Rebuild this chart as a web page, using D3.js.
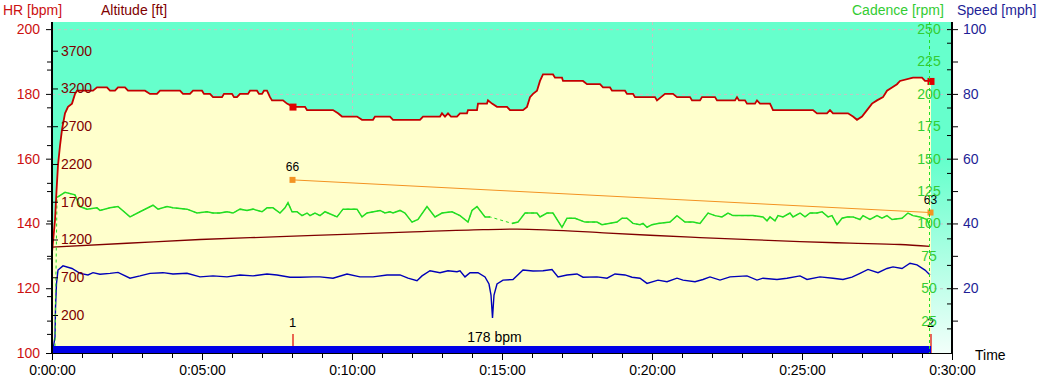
<!DOCTYPE html>
<html><head><meta charset="utf-8">
<script src="https://cdn.jsdelivr.net/npm/d3@7"></script>
<style>html,body{margin:0;padding:0;background:#fff;} svg{display:block;font-family:"Liberation Sans",Arial,sans-serif;}</style>
</head><body><svg id="c" width="1044" height="383"></svg>
<script>
// ---------- DATA ----------
// heart rate [seconds, bpm]
const heartRate = [[0,131],[6,141],[9,150],[12,158],[16,164],[20,169],[26,174],[32,176],[40,177],[46,180],[50,181],[82,181],[90,182],[110,182],[116,181],[126,181],[132,182],[146,182],[152,181],[186,181],[196,180],[210,180],[216,181],[256,181],[262,180],[276,180],[282,181],[300,181],[304,180],[316,180],[322,179],[340,179],[344,180],[360,180],[364,179],[370,179],[376,180],[392,180],[396,181],[410,181],[414,180],[420,180],[424,181],[430,181],[436,179],[440,178],[462,178],[470,177],[482,176],[506,176],[510,175],[562,175],[572,174],[580,173],[610,173],[620,172],[642,172],[646,173],[676,173],[682,172],[736,172],[742,173],[776,173],[780,174],[786,173],[792,174],[798,173],[810,173],[816,174],[830,174],[832,175],[850,175],[852,177],[870,177],[872,178],[880,177],[890,176],[910,176],[916,175],[942,175],[950,176],[956,179],[962,180],[970,181],[976,184],[982,186],[1002,186],[1006,185],[1020,185],[1022,184],[1062,184],[1070,183],[1096,183],[1102,182],[1116,182],[1120,181],[1146,181],[1150,180],[1162,180],[1166,179],[1206,179],[1210,178],[1218,179],[1226,180],[1242,180],[1250,179],[1276,179],[1280,178],[1296,178],[1300,179],[1326,179],[1330,178],[1366,178],[1370,179],[1374,178],[1386,178],[1390,177],[1406,177],[1410,178],[1416,177],[1436,177],[1442,175],[1522,175],[1530,174],[1550,174],[1556,175],[1562,174],[1592,174],[1602,173],[1610,172],[1620,173],[1630,175],[1640,177],[1650,178],[1662,179],[1670,181],[1680,182],[1690,183],[1696,184],[1722,185],[1740,185],[1746,184],[1758,184]];
// cadence [seconds, rpm] (null = no data, drawn dashed)
const cadence = [[6,5],[8,null],[10,120],[26,124],[46,122],[56,113],[70,111],[90,112],[96,110],[116,112],[132,113],[156,105],[176,109],[202,114],[212,111],[230,113],[242,112],[270,111],[290,108],[310,109],[322,108],[336,108],[350,109],[362,108],[376,111],[390,110],[402,111],[420,109],[430,112],[442,112],[456,108],[466,112],[472,116],[480,109],[490,109],[500,106],[510,108],[516,106],[526,108],[536,106],[546,109],[570,105],[582,111],[610,111],[620,105],[630,108],[656,110],[666,108],[676,109],[682,108],[696,110],[706,108],[720,101],[732,103],[750,113],[766,105],[780,108],[800,109],[816,106],[832,101],[840,110],[850,113],[866,105],[876,105],[898,null],[920,100],[932,101],[946,108],[970,108],[976,105],[990,108],[1002,108],[1020,97],[1030,104],[1046,104],[1066,101],[1090,101],[1100,99],[1130,101],[1140,104],[1150,104],[1162,100],[1176,99],[1182,100],[1190,97],[1200,99],[1212,100],[1236,101],[1250,106],[1266,101],[1282,101],[1296,100],[1312,108],[1326,106],[1340,105],[1352,108],[1362,106],[1382,106],[1402,106],[1422,105],[1430,102],[1436,105],[1446,102],[1452,106],[1462,105],[1476,108],[1482,105],[1496,108],[1506,105],[1516,108],[1530,108],[1540,109],[1552,105],[1560,106],[1570,99],[1580,104],[1590,105],[1602,105],[1616,103],[1622,106],[1636,103],[1650,106],[1660,104],[1670,106],[1680,103],[1700,104],[1712,108],[1722,106],[1736,105],[1750,103],[1756,97]];
// speed [seconds, mph]
const speed = [[2,1],[6,5],[7,14],[9,21.5],[12,25.6],[22,26.9],[40,26.1],[56,24.6],[72,24.1],[82,24.8],[96,24.3],[116,24.6],[132,24.9],[156,23.1],[176,23.8],[196,24.6],[222,24.8],[242,24.4],[270,24.6],[296,23.5],[322,23.8],[350,23.5],[376,24.1],[402,23.8],[430,24.4],[450,24.1],[476,23.4],[496,23.4],[522,23.5],[536,23.5],[562,23.1],[590,24.4],[616,23.5],[642,23.5],[670,24.1],[696,24.1],[712,23.1],[730,22.3],[740,23.8],[756,25.4],[776,24.8],[792,25.4],[810,25.1],[816,25.4],[826,23.5],[836,24.8],[852,24.8],[866,23.5],[874,21.3],[878,17.9],[881,10.8],[884,17.9],[890,21.3],[902,22.5],[922,22.7],[942,25.6],[962,25.3],[982,25.4],[1000,25.8],[1012,23.5],[1030,24.1],[1050,24.4],[1062,23.4],[1090,23.5],[1110,23.1],[1126,24.4],[1146,24.1],[1160,23.4],[1176,23.1],[1190,21.5],[1212,22.5],[1230,22.0],[1250,23.1],[1262,22.5],[1286,22.0],[1302,22.7],[1316,23.5],[1336,22.5],[1356,23.5],[1390,23.8],[1410,22.5],[1422,23.1],[1450,22.7],[1470,23.1],[1496,23.8],[1510,22.7],[1536,23.5],[1562,23.1],[1582,22.7],[1600,23.4],[1616,24.6],[1632,25.8],[1652,24.8],[1670,26.1],[1682,26.6],[1700,26.1],[1716,27.7],[1730,27.2],[1746,25.6],[1756,24.1]];
// altitude [seconds, ft]
const altitude = [[0,1100],[150,1150],[296,1200],[456,1237],[600,1272],[722,1300],[862,1330],[930,1337],[996,1325],[1096,1290],[1196,1256],[1296,1226],[1396,1198],[1496,1172],[1596,1152],[1696,1134],[1756,1110]];
// laps
const lapTimes = [481, 1757];
const lapNames = ["1", "2"];
const lapValues = [66, 63];
const avgHRText = "178 bpm";
const endCursor = 1754;
const dataEnd = 1758;
// tick values
const hrTicks = [100,120,140,160,180,200];
const hrMinorTicks = [110,130,150,170,190];
const altTicks = [200,700,1200,1700,2200,2700,3200,3700];
const altMinorTicks = [-50,450,950,1450,1950,2450,2950,3450];
const cadTicks = [25,50,75,100,125,150,175,200,225,250];
const spdTicks = [10,20,30,40,50,60,70,80,90,100];
const spdLeftTicks = [7.6,15.3,20,27.2,35.4,40,47.4,55.6,60,67.3,75.8,80,87.6,95.8,100];
const timeTicks = d3.range(0, 1801, 60);
const timeMajor = d3.range(0, 1801, 300);
const gridHR = [120,140,160,180,200];
const gridTime = [600,1200];

// ---------- LAYOUT ----------
const L=52, R=952, T=22, B=353;
const svg = d3.select('#c');
const x = d3.scaleLinear().domain([0,1800]).range([L,R]);
const hrY = d3.scaleLinear().domain([100,202.2]).range([B,T]);
const cadY = d3.scaleLinear().domain([0,255.4]).range([B,T]);
const spdY = d3.scaleLinear().domain([0,102.2]).range([B,T]);
const altY = d3.scaleLinear().domain([-303,4080]).range([B,T]);
const lapY = d3.scaleLinear().domain([50.1,80.5]).range([B,T]);

const C = {teal:'#66ffcc', yellow:'#ffffcc', hr:'#c40000', hrText:'#cc1111', alt:'#800000',
  cad:'#22dd22', cadText:'#33cc33', spd:'#0000b8', spdText:'#1e1e96', bar:'#0000e6', lap:'#f39322'};

const defs = svg.append('defs');
const g = defs.append('linearGradient').attr('id','bg').attr('x1',0).attr('y1',0).attr('x2',0).attr('y2',1);
g.append('stop').attr('offset','0').attr('stop-color',C.teal);
g.append('stop').attr('offset','0.42').attr('stop-color',C.teal);
g.append('stop').attr('offset','1').attr('stop-color','#f2fffa');

svg.append('rect').attr('x',L).attr('y',T).attr('width',R-L).attr('height',B-T).attr('fill','url(#bg)');

// grid
svg.append('g').selectAll('line').data(gridHR).join('line')
  .attr('x1',L).attr('x2',R).attr('y1',d=>hrY(d)+0.5).attr('y2',d=>hrY(d)+0.5)
  .attr('stroke','#c4c4c4').attr('stroke-dasharray','3,3');
svg.append('g').selectAll('line').data(gridTime).join('line')
  .attr('x1',d=>x(d)+0.5).attr('x2',d=>x(d)+0.5).attr('y1',T).attr('y2',B)
  .attr('stroke','#c4c4c4').attr('stroke-dasharray','3,3');

// HR area
svg.append('path').datum(heartRate)
  .attr('d', d3.area().x(d=>x(d[0])).y0(B).y1(d=>hrY(d[1])))
  .attr('fill', C.yellow);

// altitude line
svg.append('path').datum(altitude)
  .attr('d', d3.line().x(d=>x(d[0])).y(d=>altY(d[1])).curve(d3.curveMonotoneX))
  .attr('fill','none').attr('stroke',C.alt).attr('stroke-width',1.3);

// speed line
svg.append('path').datum(speed)
  .attr('d', d3.line().x(d=>x(d[0])).y(d=>spdY(d[1])))
  .attr('fill','none').attr('stroke',C.spd).attr('stroke-width',1.4);

// cadence: dashed through gaps, solid where defined
const cadDefined = cadence.filter(d=>d[1]!==null);
svg.append('path').datum(cadDefined)
  .attr('d', d3.line().x(d=>x(d[0])).y(d=>cadY(d[1])))
  .attr('fill','none').attr('stroke',C.cad).attr('stroke-width',1).attr('stroke-dasharray','3,3');
svg.append('path').datum(cadence)
  .attr('d', d3.line().defined(d=>d[1]!==null).x(d=>x(d[0])).y(d=>cadY(d[1])))
  .attr('fill','none').attr('stroke',C.cad).attr('stroke-width',1.5);

// lap value line (orange)
const lapPts = lapTimes.map((t,i)=>[t, lapValues[i]]);
svg.append('path').datum(lapPts)
  .attr('d', d3.line().x(d=>x(d[0])).y(d=>lapY(d[1])))
  .attr('fill','none').attr('stroke',C.lap).attr('stroke-width',1);
svg.append('g').selectAll('rect').data(lapPts).join('rect')
  .attr('x',d=>x(d[0])-3).attr('y',d=>lapY(d[1])-3).attr('width',6).attr('height',6).attr('fill',C.lap);
svg.append('g').selectAll('text').data(lapPts).join('text')
  .attr('x',d=>x(d[0])).attr('y',d=>lapY(d[1])-9).attr('text-anchor','middle')
  .attr('font-size',12).attr('fill','#000').text(d=>d[1]);

// HR line
svg.append('path').datum(heartRate)
  .attr('d', d3.line().x(d=>x(d[0])).y(d=>hrY(d[1])))
  .attr('fill','none').attr('stroke',C.hr).attr('stroke-width',1.8);

// lap markers on HR
const hrAt = t => { const i = d3.bisector(d=>d[0]).left(heartRate, t); const a=heartRate[Math.max(0,i-1)], b=heartRate[Math.min(heartRate.length-1,i)]; if(b[0]===a[0]) return a[1]; return a[1]+(b[1]-a[1])*(t-a[0])/(b[0]-a[0]); };
svg.append('g').selectAll('rect').data(lapTimes).join('rect')
  .attr('x',d=>x(d)-3).attr('y',d=>hrY(hrAt(d))-3).attr('width',7).attr('height',7).attr('fill','#e00000');

// lap ticks + numbers at bottom
svg.append('g').selectAll('line').data(lapTimes).join('line')
  .attr('x1',d=>x(d)+0.5).attr('x2',d=>x(d)+0.5).attr('y1',334).attr('y2',B)
  .attr('stroke','#dd0000').attr('stroke-width',1.2);
svg.append('g').selectAll('text').data(lapTimes).join('text')
  .attr('x',d=>x(d)).attr('y',327).attr('text-anchor','middle').attr('font-size',13).attr('fill','#000')
  .text((d,i)=>lapNames[i]);

// blue bar
svg.append('rect').attr('x',x(0)).attr('y',346).attr('width',x(dataEnd)-x(0)).attr('height',B-346).attr('fill',C.bar);

// avg HR text
svg.append('text').attr('x',x(dataEnd/2)+3).attr('y',342).attr('text-anchor','middle').attr('font-size',14).attr('fill','#000').text(avgHRText);

// end cursor
svg.append('line').attr('x1',x(endCursor)+0.5).attr('x2',x(endCursor)+0.5).attr('y1',T).attr('y2',B)
  .attr('stroke',C.cad).attr('stroke-dasharray','3,3');

// cadence labels inside plot
const cadAx = svg.append('g').attr('transform',`translate(${x(endCursor)},0)`)
  .call(d3.axisRight(cadY).tickValues(cadTicks).tickSize(0).tickPadding(0));
cadAx.select('.domain').remove();
cadAx.selectAll('text').attr('text-anchor','middle').attr('fill',C.cadText).attr('font-size',14).attr('font-family','"Liberation Sans",Arial,sans-serif');

// ---------- AXES ----------
function styleAxis(sel, color){
  sel.select('.domain').remove();
  sel.selectAll('line').attr('stroke','#000');
  sel.selectAll('text').attr('fill',color).attr('font-size',14).attr('font-family','"Liberation Sans",Arial,sans-serif');
}
const intFmt = d3.format('d');
// left: HR
styleAxis(svg.append('g').attr('transform',`translate(${L},0)`).call(d3.axisLeft(hrY).tickValues(hrMinorTicks).tickSize(5).tickFormat('')), C.hrText);
styleAxis(svg.append('g').attr('transform',`translate(${L},0)`).call(d3.axisLeft(hrY).tickValues(hrTicks).tickSize(6).tickPadding(6).tickFormat(intFmt)), C.hrText);
// left: altitude
styleAxis(svg.append('g').attr('transform',`translate(${L},0)`).call(d3.axisLeft(altY).tickValues(altMinorTicks).tickSize(5).tickFormat('')), C.alt);
styleAxis(svg.append('g').attr('transform',`translate(${L},0)`).call(d3.axisRight(altY).tickValues(altTicks).tickSize(6).tickPadding(3).tickFormat(intFmt)), C.alt);
// right: speed
styleAxis(svg.append('g').attr('transform',`translate(${R},0)`).call(d3.axisLeft(spdY).tickValues(spdLeftTicks).tickSize(5).tickFormat('')), C.spdText);
styleAxis(svg.append('g').attr('transform',`translate(${R},0)`).call(d3.axisRight(spdY).tickValues(spdTicks).tickSize(6).tickPadding(5).tickFormat(d=> d%20===0 ? intFmt(d) : '')), C.spdText);
// bottom: time
const fmt = s => `${Math.floor(s/3600)}:${String(Math.floor(s/60)%60).padStart(2,'0')}:${String(s%60).padStart(2,'0')}`;
styleAxis(svg.append('g').attr('transform',`translate(0,${B})`).call(d3.axisBottom(x).tickValues(timeTicks).tickSize(5).tickFormat('')), '#000');
styleAxis(svg.append('g').attr('transform',`translate(0,${B})`).call(d3.axisBottom(x).tickValues(timeMajor).tickSize(7).tickPadding(5).tickFormat(fmt)), '#000');

// axis lines
svg.append('line').attr('x1',L).attr('x2',L).attr('y1',T).attr('y2',B+1).attr('stroke','#000').attr('stroke-width',2);
svg.append('line').attr('x1',R).attr('x2',R).attr('y1',T).attr('y2',B+1).attr('stroke','#000').attr('stroke-width',2);
svg.append('line').attr('x1',L).attr('x2',R).attr('y1',B+0.5).attr('y2',B+0.5).attr('stroke','#000').attr('stroke-width',1);

// titles
const titles = [
  {t:'HR [bpm]', x:3, y:15, c:C.hrText},
  {t:'Altitude [ft]', x:101, y:15, c:C.alt},
  {t:'Cadence [rpm]', x:852, y:15, c:C.cadText},
  {t:'Speed [mph]', x:957, y:15, c:C.spdText},
  {t:'Time', x:975, y:360, c:'#000'}
];
svg.append('g').selectAll('text').data(titles).join('text')
  .attr('x',d=>d.x).attr('y',d=>d.y).attr('fill',d=>d.c).attr('font-size',14).text(d=>d.t);
</script>
</body></html>
